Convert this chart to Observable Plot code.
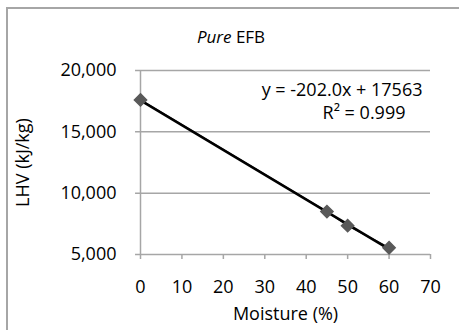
<!DOCTYPE html>
<html><head><meta charset="utf-8">
<script src="https://cdn.jsdelivr.net/npm/d3@7"></script>
<script src="https://cdn.jsdelivr.net/npm/@observablehq/plot@0.6"></script>
<style>
body{margin:0;background:#fff;width:459px;height:330px;overflow:hidden;position:relative;font-family:"Open Sans",sans-serif;}
#frame{position:absolute;left:6px;top:7px;width:600px;height:600px;border-left:2px solid #a6a6a6;border-top:2px solid #a6a6a6;}
#title{position:absolute;left:0;width:462px;top:25px;text-align:center;font-size:17px;color:#000;}
#chart{position:absolute;left:0;top:0;}
</style></head>
<body>
<div id="frame"></div>
<div id="chart"></div>
<div id="title"><i>Pure</i> EFB</div>
<script>
const moisture = [0, 45, 50, 60];
const lhv = [17600, 8500, 7350, 5550];
const yTicks = [5000, 10000, 15000, 20000];
const xTicks = [0, 10, 20, 30, 40, 50, 60, 70];
const slope = -202.0, intercept = 17563;
const trendX = [0, 60];
const equation = "y = -202.0x + 17563";
const r2 = "R² = 0.999";

const points = moisture.map((m, i) => ({m, v: lhv[i]}));
const trend = trendX.map(m => ({m, v: slope * m + intercept}));
const fmt = d3.format(",");

const plot = Plot.plot({
  width: 459, height: 330,
  marginLeft: 140, marginRight: 29, marginTop: 70, marginBottom: 76,
  style: {fontFamily: "Open Sans, sans-serif", fontSize: "18px", color: "#000", background: "transparent"},
  x: {domain: [0, 70]},
  y: {domain: [5000, 20000]},
  marks: [
    Plot.ruleY(yTicks, {x1: -1.2, x2: 70, stroke: "#a6a6a6", strokeWidth: 1.5}),
    Plot.ruleX([0], {y1: 5000, y2: 20000, stroke: "#a6a6a6", strokeWidth: 1.5}),
    Plot.axisX({ticks: xTicks, tickSize: 5, tickPadding: 21, stroke: "#a6a6a6", strokeWidth: 1.5, fill: "#000", label: "Moisture (%)", labelArrow: false, labelAnchor: "center", labelOffset: 65, fontSize: 18}),
    Plot.axisY({ticks: yTicks, tickSize: 0, tickPadding: 24, tickFormat: fmt, fill: "#000", label: "LHV (kJ/kg)", labelArrow: false, labelAnchor: "center", labelOffset: 124, fontSize: 18}),
    Plot.line(points, {x: "m", y: "v", stroke: "#333", strokeWidth: 1.5}),
    Plot.line(trend, {x: "m", y: "v", stroke: "#000", strokeWidth: 2.6}),
    Plot.dot(points, {x: "m", y: "v", symbol: "diamond2", r: 5.5, fill: "#595959", stroke: "#595959"}),
    Plot.text([equation], {frameAnchor: "top-right", dx: -8, dy: 13, fontSize: 18, fill: "#000"}),
    Plot.text([r2], {frameAnchor: "top-right", dx: -25, dy: 36, fontSize: 18, fill: "#000"})
  ]
});
document.getElementById("chart").appendChild(plot);
</script>
</body></html>
